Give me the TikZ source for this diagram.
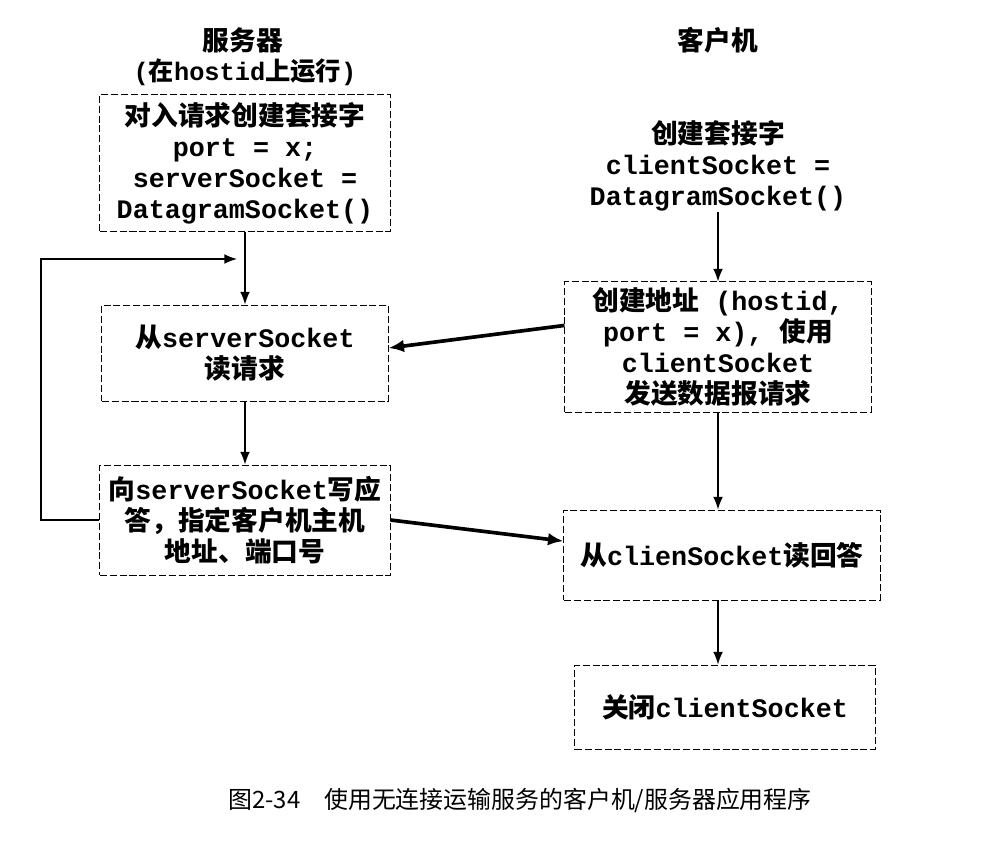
\documentclass[tikz,border=0pt]{standalone}
\usepackage{fontspec}
\setmainfont{Liberation Mono}
\newfontfamily\cjk{Noto Sans CJK SC}
\newcommand{\zh}[1]{{\cjk #1}}
\usetikzlibrary{arrows.meta}

\begin{document}
\begin{tikzpicture}[x=0.025cm,y=-0.025cm,
		texte/.style={align=center,inner sep=0pt,font=\fontsize{19}{22}\selectfont\bfseries},
		boite/.style={texte,draw,dash pattern=on 5pt off 2pt,line width=0.7pt},
		fleche/.style={-{Latex[length=9pt,width=7pt]},line width=1pt},
		grosse/.style={-{Latex[length=11pt,width=9pt]},line width=2.6pt}]
		\useasboundingbox (0,0) rectangle (984,842);
		%titres
		\node[texte] (serveur) at (243,40) {\zh{服务器}};
		\node[texte,font=\fontsize{18}{20}\selectfont\bfseries] (hote) at (245,72) {(\zh{在}hostid\zh{上运行})};
		\node[texte] (client) at (718,40) {\zh{客户机}};
		%serveur
		\node[boite,minimum width=7.25cm,minimum height=3.425cm] (s_create) at (245,163)
			{\zh{对入请求创建套接字}\\port = x;\\serverSocket =\\DatagramSocket()};
		\node[boite,minimum width=7.15cm,minimum height=2.4cm] (s_read) at (245,353)
			{\zh{从}serverSocket\\\zh{读请求}};
		\node[boite,minimum width=7.25cm,minimum height=2.75cm] (s_write) at (245,520)
			{\zh{向}serverSocket\zh{写应}\\\zh{答，指定客户机主机}\\\zh{地址、端口号}};
		%client
		\node[texte] (c_create) at (718,166) {\zh{创建套接字}\\clientSocket =\\DatagramSocket()};
		\node[boite,minimum width=7.65cm,minimum height=3.25cm] (c_send) at (718,347)
			{\zh{创建地址} (hostid,\\port = x), \zh{使用}\\clientSocket\\\zh{发送数据报请求}};
		\node[boite,minimum width=7.9cm,minimum height=2.25cm] (c_read) at (722,555)
			{\zh{从}clienSocket\zh{读回答}};
		\node[boite,minimum width=7.5cm,minimum height=2.1cm] (c_close) at (725,707)
			{\zh{关闭}clientSocket};
		%flèches
		\draw[fleche] (s_create.south) -- (s_read.north);
		\draw[fleche] (s_read.south) -- (s_write.north);
		\coordinate (coin) at (41,259);
		\coordinate (retour) at (237,259);
		\draw[fleche] (s_write.west) -| (coin) -- (retour);
		\draw[fleche] (c_create.south) -- (c_send.north);
		\draw[fleche] (c_send.south) -- (c_send.south |- c_read.north);
		\draw[fleche] (c_send.south |- c_read.south) -- (c_send.south |- c_close.north);
		\draw[grosse] (c_send.172) -- (s_read.2);
		\draw[grosse] (s_write.east) -- (c_read.175);
		%légende
		\node[font=\fontsize{17}{20}\selectfont] (legende) at (520,800)
			{\zh{图2-34\quad 使用无连接运输服务的客户机/服务器应用程序}};
	\end{tikzpicture}
\end{document}
